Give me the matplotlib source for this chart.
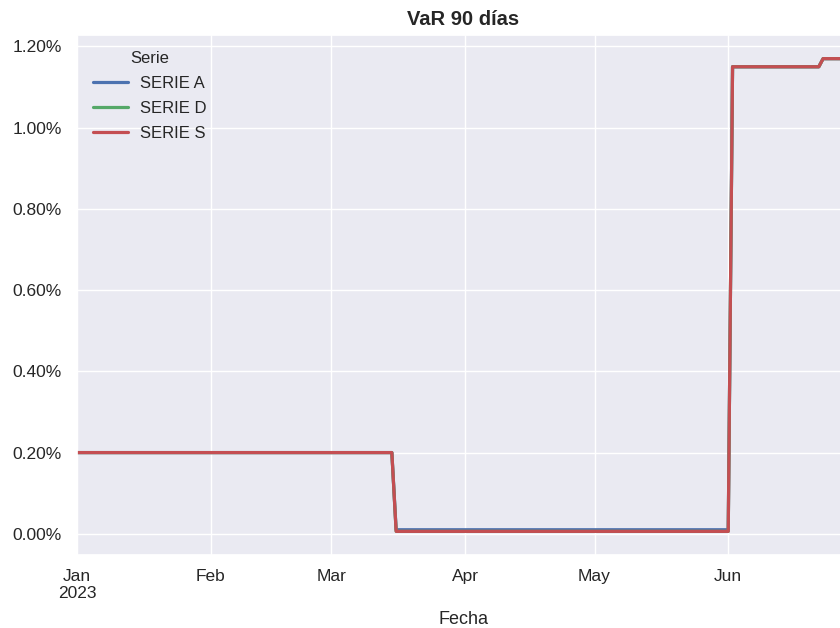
import numpy as np
import pandas as pd
import matplotlib
matplotlib.use("Agg")
import matplotlib.pyplot as plt
import matplotlib.dates as mdates
from matplotlib.ticker import PercentFormatter, FuncFormatter
import seaborn as sns

# fechas donde cambia el VaR (los tramos entre ellas son planos)
fechas = pd.to_datetime([
    "2023-01-01", "2023-03-15", "2023-03-16", "2023-06-01",
    "2023-06-02", "2023-06-22", "2023-06-23", "2023-06-29",
])
serie_a = [0.0020, 0.0020, 0.00010, 0.00010, 0.0115, 0.0115, 0.0117, 0.0117]
serie_d = [0.0020, 0.0020, 0.00006, 0.00006, 0.0115, 0.0115, 0.0117, 0.0117]
serie_s = [0.0020, 0.0020, 0.00006, 0.00006, 0.0115, 0.0115, 0.0117, 0.0117]
nombres = ["SERIE A", "SERIE D", "SERIE S"]

sns.set_theme(style="darkgrid")
plt.rcParams['font.family'] = ['Liberation Sans', 'DejaVu Sans']

fig = plt.figure(figsize=(8.4, 6.28), dpi=100)
# el eje sigue un poco mas alla del borde derecho, como en la captura
ax = fig.add_axes([77 / 840, 1 - 555 / 628, 772 / 840, 520 / 628])

colores = sns.color_palette("deep")
for nombre, valores, c in zip(nombres, [serie_a, serie_d, serie_s],
                              [colores[0], colores[2], colores[3]]):
    ax.plot(fechas, valores, label=nombre, color=c, linewidth=2.3)

ax.set_xlim(fechas[0], fechas[-1])
ax.yaxis.set_major_formatter(PercentFormatter(xmax=1, decimals=2))
ax.set_yticks([0, 0.002, 0.004, 0.006, 0.008, 0.010, 0.012])

ax.xaxis.set_major_locator(mdates.MonthLocator())


def etiqueta_mes(x, pos):
    d = mdates.num2date(x)
    if d.month == 1:
        return d.strftime("%b\n%Y")
    return d.strftime("%b")


ax.xaxis.set_major_formatter(FuncFormatter(etiqueta_mes))
ax.tick_params(axis='both', labelsize=12.5, colors='.15')
ax.tick_params(axis='x', pad=4)
ax.tick_params(axis='y', pad=5)

ax.set_title("VaR 90 días", fontsize=14.5, fontweight='bold', color='.15', pad=7)
ax.set_xlabel("Fecha", fontsize=13, color='.15', labelpad=7)
ax.set_ylabel("")

leg = ax.legend(title="Serie", loc="upper left", frameon=False, fontsize=12,
                title_fontsize=12, handlelength=2.1, labelspacing=0.6,
                handletextpad=0.75, borderaxespad=0.55)

fig.savefig("out.png", dpi=100)
